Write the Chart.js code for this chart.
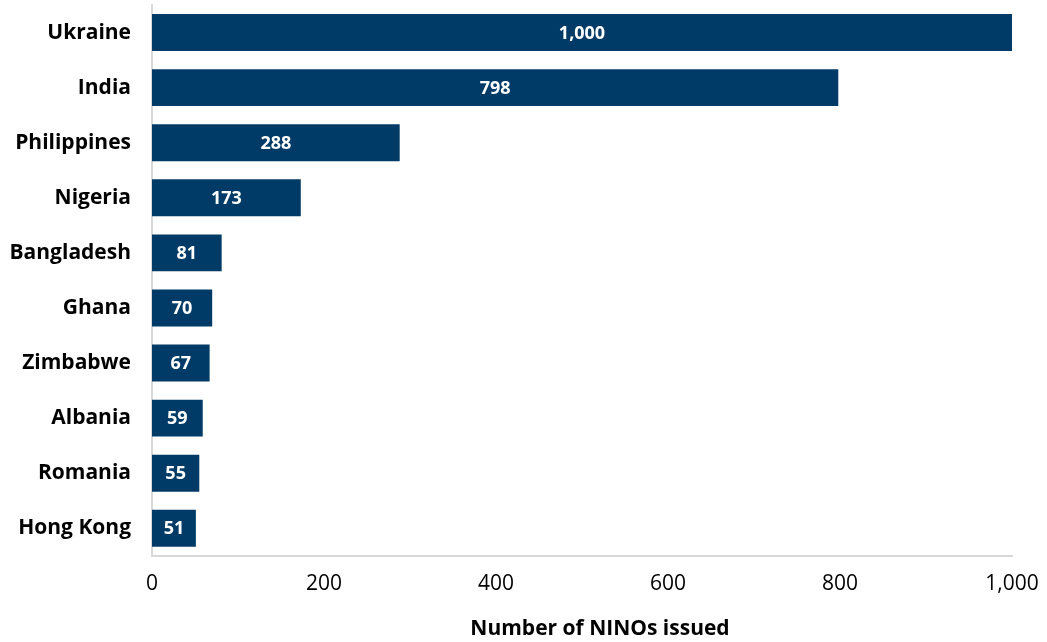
<!DOCTYPE html>
<html>
<head>
<meta charset="utf-8">
<script src="https://cdn.jsdelivr.net/npm/chart.js@4"></script>
<style>
  html, body { margin: 0; padding: 0; background: #ffffff; }
  #wrap { width: 1047px; height: 642px; position: relative; }
</style>
</head>
<body>
<div id="wrap"><canvas id="chart"></canvas></div>
<script>
// Chart data
const countries = ['Ukraine', 'India', 'Philippines', 'Nigeria', 'Bangladesh', 'Ghana', 'Zimbabwe', 'Albania', 'Romania', 'Hong Kong'];
const ninos = [1000, 798, 288, 173, 81, 70, 67, 59, 55, 51];
const xTicks = [0, 200, 400, 600, 800, 1000];
const xTitle = 'Number of NINOs issued';

const FONT = "'Open Sans', 'DejaVu Sans', sans-serif";
const fmt = (v) => v.toLocaleString('en-US');

// white value labels in the middle of each bar
const barLabels = {
    id: 'barLabels',
    afterDatasetsDraw(chart) {
        const ctx = chart.ctx;
        const meta = chart.getDatasetMeta(0);
        ctx.save();
        ctx.fillStyle = '#ffffff';
        ctx.font = 'bold 18px ' + FONT;
        ctx.textAlign = 'center';
        ctx.textBaseline = 'middle';
        meta.data.forEach((bar, i) => {
            const cx = (bar.x + bar.base) / 2;
            ctx.fillText(fmt(ninos[i]), cx, bar.y + 1);
        });
        ctx.restore();
    }
};

// x axis title, sitting a bit right of the plot centre like the original
const axisTitle = {
    id: 'axisTitle',
    afterDraw(chart) {
        const ctx = chart.ctx;
        const area = chart.chartArea;
        ctx.save();
        ctx.fillStyle = '#000000';
        ctx.font = 'bold 21px ' + FONT;
        ctx.textAlign = 'center';
        ctx.textBaseline = 'middle';
        ctx.fillText(xTitle, (area.left + area.right) / 2 + 18, chart.height - 13);
        ctx.restore();
    }
};

new Chart(document.getElementById('chart'), {
    type: 'bar',
    data: {
        labels: countries,
        datasets: [{
            data: ninos,
            backgroundColor: '#003a66',
            borderWidth: 0,
            categoryPercentage: 1,
            barPercentage: 0.67
        }]
    },
    options: {
        indexAxis: 'y',
        responsive: true,
        maintainAspectRatio: false,
        animation: false,
        layout: { padding: { top: 5, right: 0, left: 0, bottom: 29 } },
        plugins: {
            legend: { display: false },
            tooltip: { enabled: false }
        },
        scales: {
            x: {
                min: 0,
                max: 1000,
                afterBuildTicks: (axis) => { axis.ticks = xTicks.map(v => ({ value: v })); },
                afterFit: (scale) => { scale.paddingRight = 35; },
                grid: { display: false, drawTicks: false },
                border: { display: true, color: '#d9d9d9', width: 2 },
                ticks: {
                    color: '#000000',
                    font: { family: FONT, size: 21 },
                    padding: 16,
                    maxRotation: 0,
                    callback: (v) => fmt(v)
                }
            },
            y: {
                grid: { display: false, drawTicks: false },
                border: { display: true, color: '#d9d9d9', width: 2 },
                ticks: {
                    color: '#000000',
                    font: { family: FONT, size: 21, weight: 'bold' },
                    padding: 21
                },
                // fixed label column, and no extra room above/below from tick padding
                afterFit: (scale) => {
                    scale.width = 152;
                    scale.paddingTop = 0;
                    scale.paddingBottom = 0;
                }
            }
        }
    },
    plugins: [barLabels, axisTitle]
});
</script>
</body>
</html>
